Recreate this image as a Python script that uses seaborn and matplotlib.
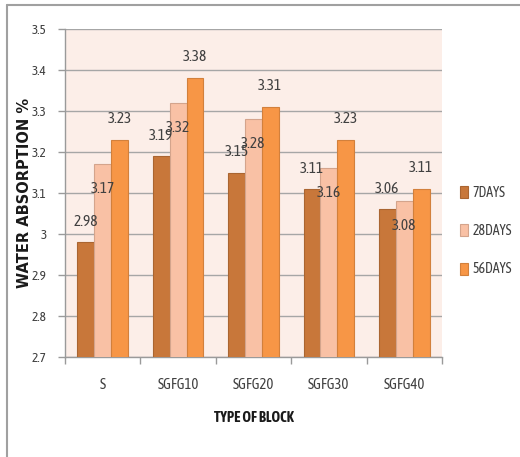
import matplotlib
matplotlib.use("Agg")
import matplotlib.pyplot as plt
import seaborn as sns
import pandas as pd
import numpy as np
from matplotlib.lines import Line2D
import matplotlib.colors as mcolors

categories = ["S", "SGFG10", "SGFG20", "SGFG30", "SGFG40"]
series_names = ["7DAYS", "28DAYS", "56DAYS"]
days7 = [2.98, 3.19, 3.15, 3.11, 3.06]
days28 = [3.17, 3.32, 3.28, 3.16, 3.08]
days56 = [3.23, 3.38, 3.31, 3.23, 3.11]
colors = ["#C8773A", "#F9C1A5", "#F79646"]

rows = []
for name, vals in zip(series_names, [days7, days28, days56]):
    for c, v in zip(categories, vals):
        rows.append({"block": c, "series": name, "value": v})
df = pd.DataFrame(rows)

sns.set_theme(style="white")
narrow = ["Asap Condensed", "DejaVu Sans"]
plt.rcParams["font.family"] = narrow

fig = plt.figure(figsize=(5.2, 4.57), dpi=100)
fig.patch.set_facecolor("white")
ax = fig.add_axes([65/520, 1-357/457, (442-65)/520, (357-29)/457])
ax.set_facecolor("#FCEEE8")

sns.barplot(data=df, x="block", y="value", hue="series", order=categories,
            hue_order=series_names, palette=colors, width=0.67, ax=ax,
            saturation=1, legend=True, linewidth=0.8)

def darker(col, f=0.85):
    r, g, b = mcolors.to_rgb(col)
    return (r*f, g*f, b*f)

for cont, col in zip(ax.containers, colors):
    for bar in cont:
        bar.set_edgecolor(darker(col))
        bar.set_zorder(3)

yt = np.round(np.arange(2.7, 3.51, 0.1), 1)
ax.set_ylim(2.7, 3.5)
ax.set_yticks(yt)
ax.set_yticklabels([f"{v:g}" for v in yt])
ax.yaxis.grid(True, color="#A6A6A6", linewidth=1.0, zorder=0)
ax.set_axisbelow(True)
ax.xaxis.grid(False)

for s in ["top", "right"]:
    ax.spines[s].set_visible(False)
for s in ["left", "bottom"]:
    ax.spines[s].set_color("#9A9A9A")
    ax.spines[s].set_linewidth(1.0)

ax.tick_params(axis="y", which="major", length=5, width=1, color="#9A9A9A",
               pad=8, labelsize=9.5, labelcolor="#404040", left=True)
ax.tick_params(axis="x", which="major", length=0, pad=15, labelsize=10.5,
               labelcolor="#404040")
ax.set_xticks(np.arange(-0.5, 5, 1.0), minor=True)
ax.tick_params(axis="x", which="minor", length=5, width=1, color="#9A9A9A",
               bottom=True)
ax.set_xlim(-0.5, 4.5)

ax.set_xlabel("TYPE OF BLOCK", fontsize=10.5, fontweight="bold", color="#1A1A1A",
              labelpad=14)
ax.set_ylabel("WATER ABSORPTION %", fontsize=10.5, fontweight="bold",
              color="#1A1A1A", family=["DejaVu Sans"])
ax.yaxis.set_label_coords(-(65-25)/377, 0.5)
ax.yaxis.label.set_va("center")

offsets = [20, -25, 21]
for cont, off in zip(ax.containers, offsets):
    for bar in cont:
        h = bar.get_height()
        ax.annotate(f"{h:g}", (bar.get_x() + bar.get_width()/2, h),
                    xytext=(0, off), textcoords="offset pixels",
                    ha="center", va="center", fontsize=11, color="#404040",
                    zorder=5, annotation_clip=False)

handles = [plt.Rectangle((0, 0), 1, 1, facecolor=c, edgecolor=darker(c), linewidth=0.8)
           for c in colors]
ax.legend(handles, series_names, loc="center left",
          bbox_to_anchor=((453-65)/377, (357-231)/328), borderpad=0,
          frameon=False, fontsize=10, handlelength=0.55, handleheight=0.95,
          handletextpad=0.35, labelspacing=1.75, labelcolor="#404040")

fig.add_artist(Line2D([7/520, 7/520], [0, 1-5/457], transform=fig.transFigure,
                      color="#A0A0A0", linewidth=1.5))
fig.add_artist(Line2D([7/520, 1], [1-5/457, 1-5/457], transform=fig.transFigure,
                      color="#A0A0A0", linewidth=1.5))

fig.savefig("out.png", dpi=100)
